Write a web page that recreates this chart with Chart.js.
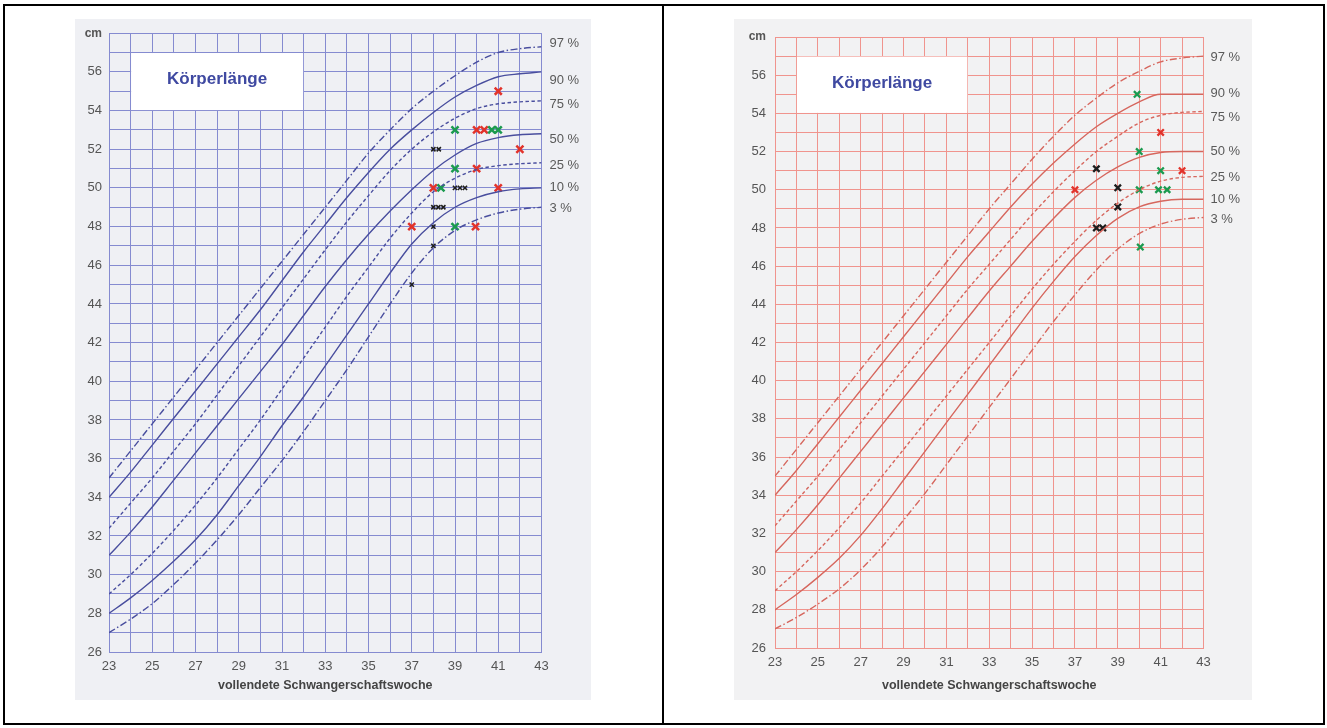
<!DOCTYPE html>
<html lang="de">
<head>
<meta charset="utf-8">
<title>Körperlänge</title>
<script src="https://cdn.jsdelivr.net/npm/chart.js@4.4.1/dist/chart.umd.min.js"></script>
<style>
    html, body { margin: 0; padding: 0; background: #fff; }
    body { width: 1327px; height: 728px; position: relative; overflow: hidden; }
    .frame { position: absolute; top: 4px; height: 721px; border: 2px solid #000; box-sizing: border-box; }
    #frameLeft { left: 3px; width: 661px; }
    #frameRight { left: 662px; width: 663px; }
    canvas { position: absolute; }
    #boysChart { left: 75px; top: 19px; background: #eff0f4; }
    #girlsChart { left: 734px; top: 19px; background: #f2f2f3; }
</style>
</head>
<body>
<div class="frame" id="frameLeft"></div>
<div class="frame" id="frameRight"></div>
<canvas id="boysChart" width="516" height="681"></canvas>
<canvas id="girlsChart" width="518" height="681"></canvas>
<script>
const weeks = [23, 24, 25, 26, 27, 28, 29, 30, 31, 32, 33, 34, 35, 36, 37, 38, 39, 40, 41, 42, 43];
const percentileLabels = ['97 %', '90 %', '75 %', '50 %', '25 %', '10 %', '3 %'];

// Körperlänge in cm, Knaben (blaues Blatt)
const boysP97 = [35.0, 36.4, 37.8, 39.2, 40.6, 42.0, 43.4, 44.8, 46.2, 47.6, 49.0, 50.4, 51.8, 53.0, 54.1, 55.0, 55.8, 56.5, 57.0, 57.2, 57.3];
const boysP90 = [34.0, 35.3, 36.7, 38.1, 39.5, 40.9, 42.3, 43.7, 45.2, 46.7, 48.1, 49.5, 50.8, 52.0, 53.0, 53.9, 54.7, 55.3, 55.75, 55.9, 56.0];
const boysP75 = [32.4, 33.7, 35.0, 36.4, 37.8, 39.3, 40.8, 42.3, 43.8, 45.3, 46.8, 48.25, 49.6, 50.9, 52.0, 52.9, 53.6, 54.1, 54.35, 54.45, 54.5];
const boysP50 = [31.0, 32.2, 33.5, 34.9, 36.3, 37.7, 39.1, 40.5, 41.9, 43.4, 44.9, 46.3, 47.6, 48.8, 49.9, 50.9, 51.7, 52.3, 52.6, 52.75, 52.8];
const boysP25 = [29.0, 30.0, 31.1, 32.3, 33.6, 35.0, 36.5, 38.0, 39.6, 41.2, 42.8, 44.4, 45.9, 47.4, 48.7, 49.8, 50.5, 50.95, 51.15, 51.25, 51.3];
const boysP10 = [28.0, 28.8, 29.7, 30.7, 31.8, 33.1, 34.6, 36.1, 37.7, 39.2, 40.8, 42.4, 44.0, 45.6, 47.1, 48.2, 49.0, 49.5, 49.8, 49.95, 50.0];
const boysP3 = [27.0, 27.7, 28.5, 29.5, 30.6, 31.8, 33.1, 34.5, 35.9, 37.4, 39.0, 40.6, 42.3, 44.0, 45.6, 46.9, 47.8, 48.35, 48.7, 48.9, 49.0];

// Körperlänge in cm, Mädchen (rotes Blatt)
const girlsP97 = [35.0, 36.4, 37.8, 39.2, 40.6, 42.0, 43.4, 44.8, 46.2, 47.6, 49.0, 50.3, 51.6, 52.8, 53.9, 54.8, 55.6, 56.2, 56.7, 56.9, 57.0];
const girlsP90 = [34.0, 35.3, 36.7, 38.1, 39.5, 40.9, 42.3, 43.7, 45.1, 46.5, 47.8, 49.1, 50.3, 51.4, 52.4, 53.3, 54.0, 54.6, 55.0, 55.0, 55.0];
const girlsP75 = [32.4, 33.7, 35.0, 36.4, 37.8, 39.2, 40.6, 42.0, 43.4, 44.8, 46.1, 47.4, 48.7, 49.9, 51.0, 52.0, 52.8, 53.5, 53.9, 54.05, 54.1];
const girlsP50 = [31.0, 32.2, 33.5, 34.9, 36.3, 37.7, 39.1, 40.5, 41.9, 43.3, 44.7, 46.0, 47.3, 48.5, 49.6, 50.5, 51.2, 51.7, 51.95, 52.0, 52.0];
const girlsP25 = [29.0, 30.0, 31.1, 32.3, 33.6, 35.0, 36.4, 37.8, 39.2, 40.6, 42.0, 43.4, 44.8, 46.1, 47.3, 48.4, 49.3, 50.0, 50.45, 50.65, 50.7];
const girlsP10 = [28.0, 28.8, 29.7, 30.7, 31.9, 33.3, 34.8, 36.3, 37.8, 39.3, 40.8, 42.3, 43.8, 45.2, 46.5, 47.6, 48.5, 49.1, 49.4, 49.5, 49.5];
const girlsP3 = [27.0, 27.6, 28.3, 29.1, 30.1, 31.3, 32.7, 34.1, 35.6, 37.1, 38.6, 40.1, 41.6, 43.1, 44.5, 45.8, 46.9, 47.7, 48.2, 48.45, 48.55];

// eingetragene Neugeborene: [Woche, cm]
const boysRed = [[41, 55], [40, 53], [40.35, 53], [42, 52], [40, 51], [38, 50], [41, 50], [37, 48], [39.95, 48]];
const boysGreen = [[39, 53], [40.7, 53], [41, 53], [39, 51], [38.35, 50], [39, 48]];
const boysBlack = [[38, 52], [38.25, 52], [39, 50], [39.23, 50], [39.46, 50], [38, 49], [38.23, 49], [38.46, 49], [38, 48], [38, 47], [37, 45]];

const girlsRed = [[41, 53], [42, 51], [37, 50]];
const girlsGreen = [[39.9, 55], [40, 52], [41, 51], [40, 50], [40.9, 50], [41.3, 50], [40.05, 47]];
const girlsBlack = [[38, 51.1], [39, 50.1], [39, 49.1], [38, 48], [38.3, 48]];

// Titelfeld: Wochen 24-32, 54-57 cm
const titleBox = { x0: 24, x1: 32, y0: 54, y1: 57 };

const SOLID = [];
const DASHED = [3.5, 2.5];
const DASH_DOT = [7, 2.5, 1.5, 2.5];
const curveDashes = [DASH_DOT, SOLID, DASHED, SOLID, DASHED, SOLID, DASH_DOT];

const FONT = '"Liberation Sans", Arial, sans-serif';

const sheetDecor = {
    id: 'sheetDecor',
    beforeDatasetsDraw(chart, args, opts) {
        const ctx = chart.ctx;
        const x = chart.scales.x;
        const y = chart.scales.y;
        const left = x.getPixelForValue(titleBox.x0);
        const right = x.getPixelForValue(titleBox.x1);
        const top = y.getPixelForValue(titleBox.y1);
        const bottom = y.getPixelForValue(titleBox.y0);
        ctx.save();
        ctx.fillStyle = '#ffffff';
        ctx.fillRect(left + 0.5, top + 0.5, right - left - 1, bottom - top - 1);
        ctx.fillStyle = '#3f49a1';
        ctx.font = 'bold 17px ' + FONT;
        ctx.textAlign = 'center';
        ctx.textBaseline = 'middle';
        ctx.fillText('Körperlänge', (left + right) / 2, y.getPixelForValue(55.6));
        ctx.restore();
    },
    afterDatasetsDraw(chart, args, opts) {
        const ctx = chart.ctx;
        ctx.save();
        ctx.fillStyle = '#5a5a5a';
        ctx.font = '13px ' + FONT;
        ctx.textAlign = 'left';
        ctx.textBaseline = 'middle';
        percentileLabels.forEach((label, i) => {
            const pts = chart.getDatasetMeta(i).data;
            const last = pts[pts.length - 1];
            ctx.fillText(label, chart.chartArea.right + opts.gap, last.y + opts.offsets[i]);
        });
        ctx.restore();
    }
};

function toPoints(values) {
    return values.map((v, i) => ({ x: weeks[i], y: v }));
}

function markerSet(points, color, radius, width) {
    return {
        type: 'scatter',
        data: points.map(p => ({ x: p[0], y: p[1] })),
        pointStyle: 'crossRot',
        pointRadius: radius,
        pointBorderWidth: width,
        borderColor: color,
        backgroundColor: color,
        showLine: false
    };
}

function makeChart(canvasId, s) {
    const canvas = document.getElementById(canvasId);
    const W = canvas.width;
    const H = canvas.height;

    const datasets = s.curves.map((values, i) => ({
        label: percentileLabels[i],
        data: toPoints(values),
        borderColor: s.lineColor,
        borderWidth: 1.4,
        borderDash: curveDashes[i],
        pointRadius: 0,
        fill: false,
        cubicInterpolationMode: 'monotone'
    }));
    datasets.push(markerSet(s.black, '#1e1e1e', s.blackRadius, s.blackWidth));
    datasets.push(markerSet(s.green, '#1b9a4f', s.markRadius, s.markWidth));
    datasets.push(markerSet(s.red, '#e2332b', s.markRadius, s.markWidth));

    return new Chart(canvas, {
        type: 'line',
        data: { datasets: datasets },
        plugins: [sheetDecor],
        options: {
            responsive: false,
            animation: false,
            devicePixelRatio: 1,
            layout: {
                padding: { left: 0, top: s.area.top, right: W - s.area.right, bottom: 0 }
            },
            plugins: {
                legend: { display: false },
                tooltip: { enabled: false },
                sheetDecor: { gap: s.labelGap, offsets: s.labelOffsets }
            },
            scales: {
                x: {
                    type: 'linear',
                    min: 23,
                    max: 43,
                    afterFit: (scale) => { scale.height = H - s.area.bottom; },
                    grid: { color: s.gridColor, lineWidth: 1, drawTicks: false },
                    border: { color: s.gridColor, width: 1 },
                    ticks: {
                        stepSize: 1,
                        autoSkip: false,
                        maxRotation: 0,
                        padding: 7,
                        color: '#555555',
                        font: { family: FONT, size: 13 },
                        callback: (v) => (v % 2 === 1 ? String(v) : '')
                    },
                    title: {
                        display: true,
                        text: 'vollendete Schwangerschaftswoche',
                        color: '#444444',
                        font: { family: FONT, size: 12.5, weight: 'bold' },
                        padding: { top: 0, bottom: 7 }
                    }
                },
                y: {
                    type: 'linear',
                    min: 26,
                    max: 58,
                    afterFit: (scale) => { scale.width = s.area.left; },
                    grid: { color: s.gridColor, lineWidth: 1, drawTicks: false },
                    border: { color: s.gridColor, width: 1 },
                    ticks: {
                        stepSize: 1,
                        autoSkip: false,
                        padding: s.yPad,
                        color: '#555555',
                        font: (c) => (c.tick && c.tick.value === 58
                            ? { family: FONT, size: 12, weight: 'bold' }
                            : { family: FONT, size: 13 }),
                        callback: (v) => (v === 58 ? 'cm' : (v % 2 === 0 ? String(v) : ''))
                    }
                }
            }
        }
    });
}

makeChart('boysChart', {
    curves: [boysP97, boysP90, boysP75, boysP50, boysP25, boysP10, boysP3],
    red: boysRed, green: boysGreen, black: boysBlack,
    lineColor: '#494e9e',
    gridColor: '#858bd0',
    area: { left: 34, top: 13, right: 466.5, bottom: 633 },
    yPad: 7,
    labelGap: 8,
    labelOffsets: [-3.5, 8.5, 3.5, 5.5, 2.5, -0.5, 1],
    markRadius: 5, markWidth: 2.5,
    blackRadius: 3, blackWidth: 1.6
});

makeChart('girlsChart', {
    curves: [girlsP97, girlsP90, girlsP75, girlsP50, girlsP25, girlsP10, girlsP3],
    red: girlsRed, green: girlsGreen, black: girlsBlack,
    lineColor: '#d6675e',
    gridColor: '#f0948d',
    area: { left: 41, top: 18, right: 469.5, bottom: 629 },
    yPad: 9,
    labelGap: 7,
    labelOffsets: [1, -1, 6, 0, 1, 0, 1.5],
    markRadius: 4.5, markWidth: 2.3,
    blackRadius: 4.5, blackWidth: 2.3
});
</script>
</body>
</html>
